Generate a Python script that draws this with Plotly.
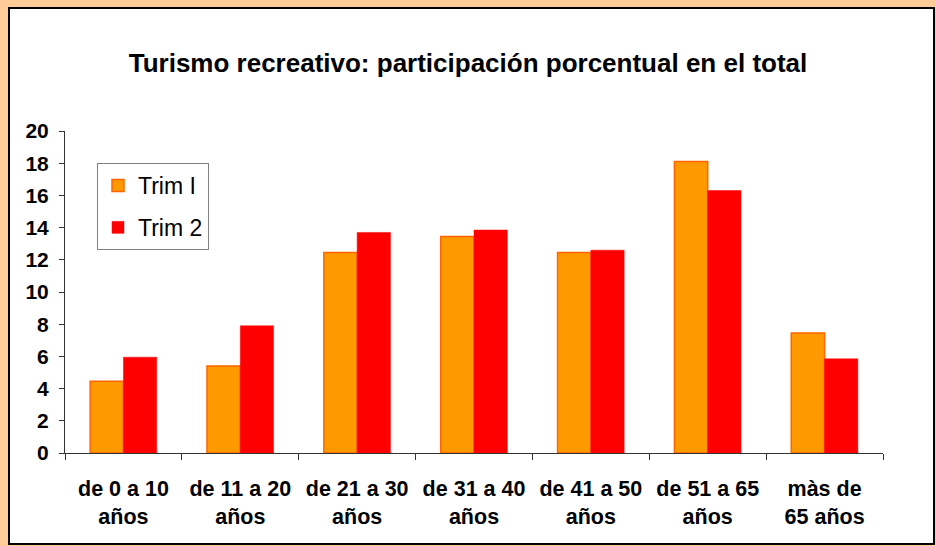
import plotly.graph_objects as go

categories = ["de 0 a 10<br>años", "de 11 a 20<br>años", "de 21 a 30<br>años",
              "de 31 a 40<br>años", "de 41 a 50<br>años", "de 51 a 65<br>años",
              "màs de<br>65 años"]
trim1 = [4.45, 5.4, 12.45, 13.45, 12.45, 18.1, 7.45]
trim2 = [5.95, 7.9, 13.7, 13.85, 12.6, 16.3, 5.85]
series_names = ["Trim I", "Trim 2"]
y_ticks = [0, 2, 4, 6, 8, 10, 12, 14, 16, 18, 20]

W, H = 936, 546
L, R, T, B = 65, 53, 131, 93
pw, ph = W - L - R, H - T - B

def px_x(p):
    return (p - L) / pw

def px_y(p):
    return (H - B - p) / ph

FONT = "Liberation Sans, Arial, sans-serif"

fig = go.Figure()
fig.add_trace(go.Bar(x=categories, y=trim1, name=series_names[0],
                     marker=dict(color="#FF9900", line=dict(color="#FF6600", width=1.5)),
                     legendgroup="a"))
fig.add_trace(go.Bar(x=categories, y=trim2, name=series_names[1],
                     marker=dict(color="#FF0000", line=dict(color="#FF0000", width=0.5)),
                     legendgroup="b"))

fig.add_shape(type="rect", xref="paper", yref="paper",
              x0=px_x(9), x1=px_x(934), y0=px_y(544), y1=px_y(8),
              fillcolor="white", line=dict(color="black", width=2), layer="below")

fig.update_layout(
    width=W, height=H,
    margin=dict(l=L, r=R, t=T, b=B),
    paper_bgcolor="#FFCC99",
    plot_bgcolor="rgba(0,0,0,0)",
    font=dict(family=FONT, color="black"),
    title=dict(text="<b>Turismo recreativo: participación porcentual en el total</b>",
               x=468 / W, xanchor="center", y=1 - 63 / H, yanchor="middle",
               font=dict(size=26, color="black")),
    barmode="group", bargap=0.43, bargroupgap=0,
    showlegend=True,
    legend=dict(x=px_x(97), y=px_y(163), xanchor="left", yanchor="top",
                bgcolor="white", bordercolor="#808080", borderwidth=1,
                font=dict(size=23), tracegroupgap=9, traceorder="grouped",
                itemwidth=30),
    xaxis=dict(showline=True, linecolor="#333333", linewidth=1,
               ticks="outside", tickson="boundaries", ticklen=6, tickcolor="#333333",
               ticklabelstandoff=16,
               tickfont=dict(size=21.5, color="black", family=FONT, weight="bold"),
               showgrid=False, tickangle=0),
    yaxis=dict(range=[0, 20], tickvals=y_ticks, showline=True, linecolor="#333333",
               linewidth=1, ticks="outside", ticklen=5, tickcolor="#333333",
               ticklabelstandoff=6,
               tickfont=dict(size=21, color="black", family=FONT, weight="bold"),
               showgrid=False, zeroline=False),
)

fig.write_html("out.html", config={"displayModeBar": False},
               post_script="document.body.style.margin='0';document.body.style.overflow='hidden';")
